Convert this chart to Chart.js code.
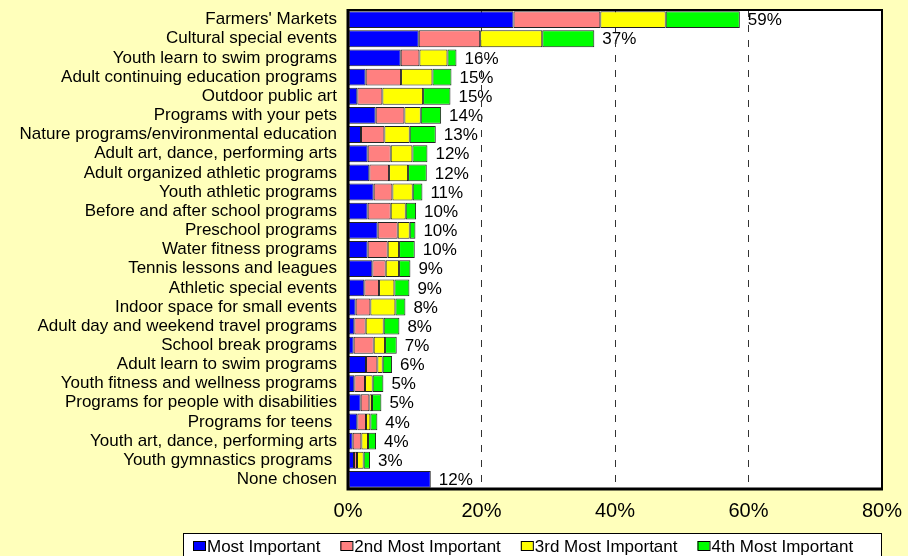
<!DOCTYPE html>
<html>
<head>
<meta charset="utf-8">
<script src="https://cdn.jsdelivr.net/npm/chart.js@4"></script>
<style>
  html, body { margin: 0; padding: 0; background: #FFFFBB; }
  #wrap { width: 908px; height: 556px; position: relative; }
</style>
</head>
<body>
<div id="wrap"><canvas id="chart"></canvas></div>
<script>
// Categories (top to bottom)
const categories = [
  "Farmers' Markets", "Cultural special events", "Youth learn to swim programs",
  "Adult continuing education programs", "Outdoor public art", "Programs with your pets",
  "Nature programs/environmental education", "Adult art, dance, performing arts",
  "Adult organized athletic programs", "Youth athletic programs", "Before and after school programs",
  "Preschool programs", "Water fitness programs", "Tennis lessons and leagues",
  "Athletic special events", "Indoor space for small events", "Adult day and weekend travel programs",
  "School break programs", "Adult learn to swim programs", "Youth fitness and wellness programs",
  "Programs for people with disabilities", "Programs for teens ", "Youth art, dance, performing arts",
  "Youth gymnastics programs ", "None chosen"
];

// Percent of respondents, by rank
const mostImportant = [24.8, 10.6, 7.9, 2.65, 1.4, 4.15, 1.95, 2.95, 3.2, 3.85, 2.95, 4.45, 2.95, 3.65, 2.45, 1.15, 0.95, 0.85, 2.7, 0.95, 1.9, 1.4, 0.7, 0.9, 12.4];
const secondImportant = [13.0, 9.2, 2.8, 5.3, 3.75, 4.3, 3.5, 3.45, 2.95, 2.8, 3.45, 3.0, 3.0, 2.0, 2.2, 2.2, 1.7, 3.0, 1.7, 1.6, 1.3, 1.3, 1.3, 0.45, null];
const thirdImportant = [9.8, 9.3, 4.2, 4.7, 6.1, 2.45, 3.8, 3.25, 2.85, 3.05, 2.25, 1.8, 1.7, 2.0, 2.3, 3.75, 2.7, 1.7, 0.8, 1.15, 0.4, 0.65, 1.0, 1.0, null];
const fourthImportant = [11.1, 7.8, 1.35, 2.85, 4.1, 3.05, 3.9, 2.25, 2.8, 1.45, 1.55, 0.85, 2.35, 1.7, 2.25, 1.5, 2.35, 1.75, 1.4, 1.6, 1.4, 1.05, 1.2, 0.95, null];

// Total labels shown at bar ends
const totalLabels = ["59%", "37%", "16%", "15%", "15%", "14%", "13%", "12%", "12%", "11%", "10%", "10%", "10%", "9%", "9%", "8%", "8%", "7%", "6%", "5%", "5%", "4%", "4%", "3%", "12%"];

const xTicks = [0, 20, 40, 60, 80];

const FONT = "'Liberation Sans', Arial, sans-serif";
const BG = '#FFFFBB';

function ds(label, data, color) {
  return { label, data, backgroundColor: color, borderColor: '#222', borderWidth: 1, borderSkipped: false,
           barPercentage: 0.88, categoryPercentage: 1.0 };
}

// background, plot area and value labels (under the grid, like the original)
const backdrop = {
  id: 'backdrop',
  beforeDraw(chart) {
    const { ctx, chartArea: a, scales } = chart;
    ctx.save();
    ctx.fillStyle = BG;
    ctx.fillRect(0, 0, chart.width, chart.height);
    ctx.fillStyle = '#fff';
    ctx.fillRect(a.left, a.top, a.right - a.left, a.bottom - a.top);
    ctx.fillStyle = '#000';
    ctx.font = '17px ' + FONT;
    ctx.textBaseline = 'middle';
    ctx.textAlign = 'left';
    categories.forEach((c, i) => {
      const total = [mostImportant, secondImportant, thirdImportant, fourthImportant]
        .reduce((s, arr) => s + (arr[i] || 0), 0);
      const x = scales.x.getPixelForValue(total) + 8;
      const y = scales.y.getPixelForValue(i) + 1;
      ctx.fillText(totalLabels[i], x, y);
    });
    ctx.restore();
  },
  afterDraw(chart) {
    const { ctx, chartArea: a } = chart;
    ctx.save();
    // plot frame
    ctx.strokeStyle = '#000';
    ctx.lineWidth = 2;
    ctx.strokeRect(a.left, a.top, a.right - a.left, a.bottom - a.top);
    ctx.lineWidth = 3;
    ctx.beginPath();
    ctx.moveTo(a.left, a.top - 1);
    ctx.lineTo(a.left, a.bottom);
    ctx.lineTo(a.right + 1, a.bottom);
    ctx.stroke();

    // legend
    ctx.fillStyle = '#fff';
    ctx.fillRect(183, 533, 698, 40);
    ctx.lineWidth = 1;
    ctx.strokeStyle = '#000';
    ctx.strokeRect(183.5, 533.5, 698, 40);
    ctx.font = '17px ' + FONT;
    ctx.textBaseline = 'alphabetic';
    let x = 193;
    chart.data.datasets.forEach(d => {
      ctx.fillStyle = d.backgroundColor;
      ctx.fillRect(x, 541, 12, 9);
      ctx.strokeStyle = '#000';
      ctx.strokeRect(x + 0.5, 541.5, 12, 9);
      ctx.fillStyle = '#000';
      ctx.fillText(d.label, x + 14, 551.5);
      x += 14 + ctx.measureText(d.label).width + 20;
    });
    ctx.restore();
  }
};

new Chart(document.getElementById('chart'), {
  type: 'bar',
  data: {
    labels: categories,
    datasets: [
      ds('Most Important', mostImportant, '#0000FF'),
      ds('2nd Most Important', secondImportant, '#FF8080'),
      ds('3rd Most Important', thirdImportant, '#FFFF00'),
      ds('4th Most Important', fourthImportant, '#00FF00')
    ]
  },
  options: {
    indexAxis: 'y',
    responsive: true,
    maintainAspectRatio: false,
    animation: false,
    layout: { padding: { top: 10, right: 26, bottom: 0, left: 0 } },
    plugins: { legend: { display: false }, tooltip: { enabled: false } },
    scales: {
      x: {
        stacked: true,
        min: 0, max: 80,
        afterBuildTicks: s => { s.ticks = xTicks.map(v => ({ value: v })); },
        afterFit: s => { s.height = 67; s.paddingLeft = 0; s.paddingRight = 0; },
        grid: { color: '#333', lineWidth: 1, drawTicks: false },
        border: { display: false, dash: [7, 8] },
        ticks: { color: '#000', font: { family: FONT, size: 20 }, padding: 10, callback: v => v + '%' }
      },
      y: {
        stacked: true,
        afterFit: s => { s.width = 348; s.paddingTop = 0; s.paddingBottom = 0; },
        grid: { display: false, drawTicks: false },
        border: { display: false },
        ticks: { color: '#000', font: { family: FONT, size: 17 }, padding: 11, autoSkip: false }
      }
    }
  },
  plugins: [backdrop]
});
</script>
</body>
</html>
